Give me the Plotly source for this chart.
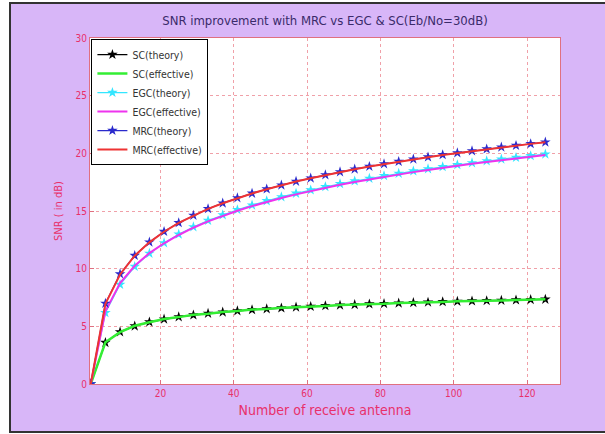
import plotly.graph_objects as go

antennas = [1, 5, 9, 13, 17, 21, 25, 29, 33, 37, 41, 45, 49, 53, 57, 61,
            65, 69, 73, 77, 81, 85, 89, 93, 97, 101, 105, 109, 113, 117, 121, 125]

sc_theory = [0, 3.59, 4.52, 5.02, 5.37, 5.62, 5.82, 5.98, 6.12, 6.23, 6.34, 6.43,
             6.51, 6.59, 6.66, 6.72, 6.78, 6.83, 6.88, 6.93, 6.97, 7.01, 7.05, 7.09,
             7.13, 7.16, 7.19, 7.22, 7.25, 7.28, 7.31, 7.34]
sc_effective = [0, 3.62, 4.50, 5.05, 5.35, 5.64, 5.80, 6.00, 6.10, 6.25, 6.32, 6.45,
                6.50, 6.61, 6.65, 6.74, 6.77, 6.85, 6.87, 6.94, 6.96, 7.03, 7.04, 7.10,
                7.12, 7.17, 7.18, 7.23, 7.24, 7.29, 7.30, 7.35]
egc_theory = [0, 6.17, 8.62, 10.18, 11.32, 12.23, 12.98, 13.62, 14.17, 14.66, 15.11,
              15.51, 15.88, 16.22, 16.53, 16.82, 17.10, 17.36, 17.60, 17.83, 18.05,
              18.26, 18.46, 18.65, 18.83, 19.01, 19.17, 19.34, 19.49, 19.64, 19.79, 19.93]
egc_effective = [0, 6.30, 8.75, 10.25, 11.35, 12.20, 12.92, 13.55, 14.10, 14.58, 15.02,
                 15.42, 15.79, 16.13, 16.44, 16.73, 17.01, 17.27, 17.51, 17.74, 17.96,
                 18.17, 18.37, 18.56, 18.75, 18.92, 19.09, 19.25, 19.41, 19.56, 19.71, 19.85]
mrc_theory = [0, 6.99, 9.54, 11.14, 12.30, 13.22, 13.98, 14.62, 15.19, 15.68, 16.13,
              16.53, 16.90, 17.24, 17.56, 17.85, 18.13, 18.39, 18.63, 18.86, 19.08,
              19.29, 19.49, 19.68, 19.87, 20.04, 20.21, 20.37, 20.53, 20.68, 20.83, 20.97]
mrc_effective = [0, 6.95, 9.50, 11.12, 12.28, 13.20, 13.97, 14.60, 15.18, 15.67, 16.12,
                 16.52, 16.89, 17.23, 17.55, 17.84, 18.12, 18.38, 18.62, 18.85, 19.07,
                 19.28, 19.48, 19.67, 19.86, 20.03, 20.20, 20.36, 20.52, 20.67, 20.82, 20.96]

x_ticks = [20, 40, 60, 80, 100, 120]
y_ticks = [0, 5, 10, 15, 20, 25, 30]

FONT = "Liberation Sans Narrow, DejaVu Sans Condensed, Arial Narrow, sans-serif"
RED = "#e8306a"
GRID = "#f0a0a8"

series = [
    ("SC(theory)", sc_theory, "#000000", 1.2, "star", 8),
    ("SC(effective)", sc_effective, "#33ee33", 2.5, None, 0),
    ("EGC(theory)", egc_theory, "#33e6ff", 1.2, "star", 8),
    ("EGC(effective)", egc_effective, "#ee33ee", 2, None, 0),
    ("MRC(theory)", mrc_theory, "#2a2acc", 1.2, "star", 8),
    ("MRC(effective)", mrc_effective, "#ee3333", 2, None, 0),
]

fig = go.Figure()
for name, ys, color, w, sym, ms in series:
    if sym:
        fig.add_trace(go.Scatter(x=antennas, y=ys, name=name, mode="lines+markers",
                                 line=dict(color=color, width=w),
                                 marker=dict(symbol=sym, size=ms, color=color)))
    else:
        fig.add_trace(go.Scatter(x=antennas, y=ys, name=name, mode="lines",
                                 line=dict(color=color, width=w)))

L, R, T, B = 90, 45, 38, 50
W, H = 605, 434
pw, ph = W - L - R, H - T - B

def px(x):
    return (x - L) / pw

def py(y):
    return (H - B - y) / ph

fig.update_layout(
    width=W, height=H,
    margin=dict(l=L, r=R, t=T, b=B),
    paper_bgcolor="#ffffff",
    plot_bgcolor="#ffffff",
    font=dict(family=FONT, color=RED, size=11),
    title=dict(text="SNR improvement with MRC vs EGC & SC(Eb/No=30dB)",
               x=(325) / W, xanchor="center", y=1 - 20 / H, yanchor="middle",
               font=dict(family=FONT, size=13, color="#3a2a6a")),
    showlegend=True,
    legend=dict(x=0.003, y=0.997, xanchor="left", yanchor="top",
                bgcolor="#ffffff", bordercolor="#000000", borderwidth=1,
                font=dict(family=FONT, size=10.5, color="#333333"),
                tracegroupgap=0, itemwidth=30),
    shapes=[
        dict(type="rect", xref="paper", yref="paper",
             x0=px(10), x1=px(606), y0=py(432), y1=py(3),
             fillcolor="#d8b6f8", line=dict(color="#333333", width=2), layer="below"),
        dict(type="rect", xref="paper", yref="paper",
             x0=0, x1=1, y0=0, y1=1,
             fillcolor="#ffffff", line=dict(width=0), layer="below"),
    ],
)

fig.update_xaxes(range=[0.8, 129], tickvals=x_ticks, ticktext=[str(v) for v in x_ticks],
                 showgrid=True, gridcolor=GRID, griddash="dot", gridwidth=1,
                 showline=True, linecolor="#e07080", linewidth=1, mirror=True,
                 ticks="inside", ticklen=4, tickcolor="#e07080",
                 tickfont=dict(family=FONT, size=10, color=RED), zeroline=False,
                 title=dict(text="Number of receive antenna", standoff=7,
                            font=dict(family=FONT, size=14, color=RED)))
fig.update_yaxes(range=[0, 30], tickvals=y_ticks, ticktext=[str(v) for v in y_ticks],
                 showgrid=True, gridcolor=GRID, griddash="dot", gridwidth=1,
                 showline=True, linecolor="#e07080", linewidth=1, mirror=True,
                 ticks="inside", ticklen=4, tickcolor="#e07080",
                 tickfont=dict(family=FONT, size=10, color=RED), zeroline=False,
                 title=dict(text="SNR ( in dB)", standoff=10,
                            font=dict(family=FONT, size=11, color=RED)))

fig.write_html("out.html", config={"displayModeBar": False},
               post_script="document.body.style.margin='0';")
